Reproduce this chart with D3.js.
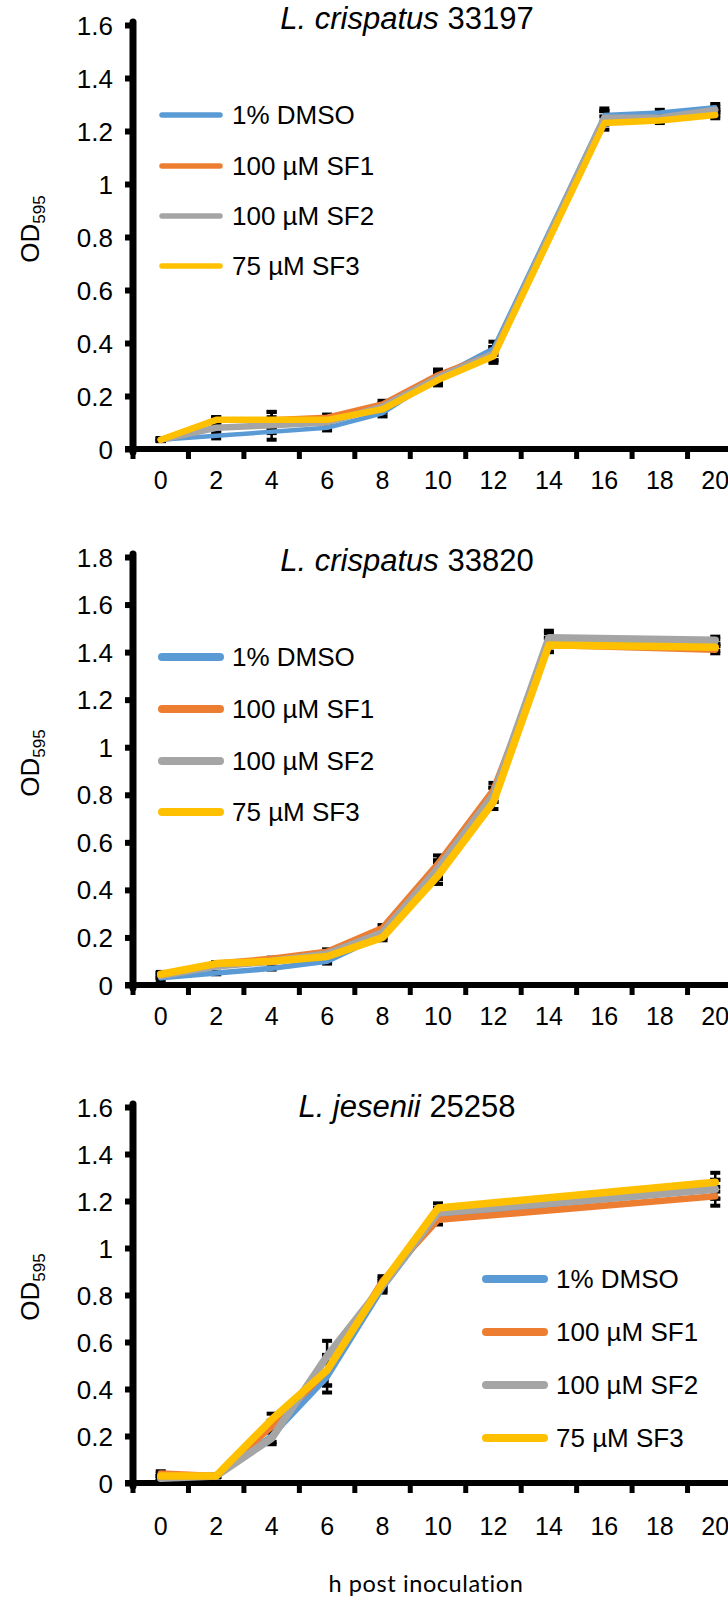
<!DOCTYPE html>
<html><head><meta charset="utf-8">
<script src="https://cdn.jsdelivr.net/npm/d3@7"></script>
<style>
html,body{margin:0;padding:0;background:#fff;}
svg{display:block;}
.tk{font-family:"Liberation Sans",Arial,sans-serif;font-size:26px;fill:#000;}
</style></head>
<body>
<svg id="c" width="728" height="1600"></svg>
<script>
// ---------- DATA ----------
const hours = ["0","2","4","6","8","10","12","14","16","18","20"];
const seriesNames = ["1% DMSO","100 µM SF1","100 µM SF2","75 µM SF3"];

const titles = ["33197","33820","25258"];
const species = ["L. crispatus","L. crispatus","L. jesenii"];

// L. crispatus 33197
const c197_DMSO = [0.035,0.05,0.065,0.08,0.135,0.27,0.38,null,1.26,1.27,1.29];
const c197_SF1  = [0.035,0.11,0.11,0.12,0.17,0.28,0.36,null,1.25,1.25,1.27];
const c197_SF2  = [0.035,0.08,0.09,0.10,0.16,0.27,0.36,null,1.25,1.25,1.28];
const c197_SF3  = [0.035,0.11,0.11,0.11,0.15,0.26,0.35,null,1.23,1.24,1.26];
const c197_SD   = [0.005,0.01,0.03,0.01,0.012,0.02,0.025,null,0.025,0.01,0.012];

// L. crispatus 33820
const c820_DMSO = [0.03,0.05,0.07,0.10,0.21,0.48,0.80,1.45,null,null,1.44];
const c820_SF1  = [0.04,0.09,0.11,0.14,0.24,0.51,0.82,1.43,null,null,1.41];
const c820_SF2  = [0.04,0.08,0.10,0.13,0.22,0.49,0.80,1.46,null,null,1.45];
const c820_SF3  = [0.045,0.09,0.10,0.12,0.20,0.46,0.77,1.43,null,null,1.42];
const c820_SD   = [0.01,0.005,0.005,0.01,0.012,0.035,0.03,0.03,null,null,0.015];

// L. jesenii 25258
const j258_DMSO = [0.02,0.03,0.20,0.45,0.83,1.14,null,null,null,null,1.25];
const j258_SF1  = [0.04,0.03,0.24,0.48,0.86,1.12,null,null,null,null,1.22];
const j258_SF2  = [0.02,0.03,0.19,0.54,0.84,1.15,null,null,null,null,1.25];
const j258_SF3  = [0.03,0.03,0.27,0.48,0.85,1.17,null,null,null,null,1.28];
const j258_SD   = [0.01,0.005,0.025,0.065,0.02,0.02,null,null,null,null,0.04];

const yTicks1 = [0,0.2,0.4,0.6,0.8,1,1.2,1.4,1.6];
const yTicks2 = [0,0.2,0.4,0.6,0.8,1,1.2,1.4,1.6,1.8];
const xTitle = "h post inoculation";

// ---------- STYLE / LAYOUT ----------
const colors = ["#5B9BD5","#ED7D31","#A5A5A5","#FFC000"];
const panels = [
  {series:[c197_DMSO,c197_SF1,c197_SF2,c197_SF3], sd:c197_SD, yticks:yTicks1,
   top:25, bottom:449, xpad:22, titleY:29, lw:[4.5,5.5,6.5,6.5], leg:{x:162, y:[115,166,216,266], lw:5.5}},
  {series:[c820_DMSO,c820_SF1,c820_SF2,c820_SF3], sd:c820_SD, yticks:yTicks2,
   top:557, bottom:985, xpad:22, titleY:571, lw:[5.5,6.5,7.5,7.5], leg:{x:162, y:[657,709,761,812], lw:8}},
  {series:[j258_DMSO,j258_SF1,j258_SF2,j258_SF3], sd:j258_SD, yticks:yTicks1,
   top:1107, bottom:1483, xpad:34, titleY:1117, lw:[5.5,6.5,7.5,7.5], leg:{x:486, y:[1279,1332,1385,1438], lw:8}}
];
const axisX = 133, rightX = 743;

const svg = d3.select("#c");

panels.forEach((p,pi)=>{
  const g = svg.append("g");
  const x = d3.scaleBand().domain(hours).range([axisX, rightX]).padding(0);
  const ymax = p.yticks[p.yticks.length-1];
  const y = d3.scaleLinear().domain([0,ymax]).range([p.bottom,p.top]);
  const cx = h => x(h) + x.bandwidth()/2;

  // y axis
  const ya = d3.axisLeft(y).tickValues(p.yticks).tickSize(8)
      .tickFormat(d=>d===0?"0":d3.format("")(+d.toFixed(1)));
  const yg = g.append("g").attr("transform",`translate(${axisX},0)`).call(ya);
  yg.select(".domain").remove();
  yg.selectAll(".tick line").attr("stroke","#000").attr("stroke-width",6).attr("x2",-8);
  yg.selectAll(".tick text").attr("class","tk").attr("dy","0.35em").attr("x",-20);

  g.append("line").attr("x1",axisX).attr("x2",axisX).attr("y1",p.top-3).attr("y2",p.bottom+3)
    .attr("stroke","#000").attr("stroke-width",7).attr("stroke-linecap","round");

  // x axis
  const xa = d3.axisBottom(x).tickSize(0).tickPadding(p.xpad);
  const xg = g.append("g").attr("transform",`translate(0,${p.bottom})`).call(xa);
  xg.select(".domain").remove();
  xg.selectAll(".tick text").attr("class","tk").style("font-size","25px").attr("dy","0.71em");
  g.append("line").attr("x1",axisX-8).attr("x2",728).attr("y1",p.bottom).attr("y2",p.bottom)
    .attr("stroke","#000").attr("stroke-width",6);
  const bounds = hours.map(h=>x(h)).concat([x(hours[hours.length-1])+x.step()]);
  g.selectAll(".xt").data(bounds).enter().append("line")
    .attr("x1",d=>d).attr("x2",d=>d).attr("y1",p.bottom).attr("y2",p.bottom+10)
    .attr("stroke","#000").attr("stroke-width",5);

  // error bars
  const eb = g.append("g");
  p.series.forEach((s,si)=>{
    hours.forEach((h,i)=>{
      if(s[i]==null || p.sd[i]==null) return;
      const v=s[i], e=p.sd[i], xc=cx(h);
      eb.append("line").attr("x1",xc).attr("x2",xc).attr("y1",y(v-e)).attr("y2",y(v+e))
        .attr("stroke","#000").attr("stroke-width",2.5);
      [v-e,v+e].forEach(b=>eb.append("line").attr("x1",xc-5).attr("x2",xc+5)
        .attr("y1",y(b)).attr("y2",y(b)).attr("stroke","#000").attr("stroke-width",4));
    });
  });

  // lines
  const line = d3.line().x(d=>cx(d.h)).y(d=>y(d.v));
  p.series.forEach((s,si)=>{
    const pts = hours.map((h,i)=>({h,v:s[i]})).filter(d=>d.v!=null);
    g.append("path").datum(pts).attr("d",line).attr("fill","none")
      .attr("stroke",colors[si]).attr("stroke-width",p.lw[si])
      .attr("stroke-linejoin","round").attr("stroke-linecap","round");
  });

  // title
  const midY = (p.top+p.bottom)/2;
  const t = g.append("text").attr("class","tk").attr("x",407).attr("y",p.titleY)
    .attr("text-anchor","middle").style("font-size","31px");
  t.append("tspan").attr("font-style","italic").text(species[pi]);
  t.append("tspan").text(" "+titles[pi]);

  // y title
  const yt = g.append("text").attr("transform",`translate(39,${midY-8}) rotate(-90)`)
    .attr("text-anchor","middle").style("font-family","'Liberation Sans',Arial,sans-serif")
    .style("font-size","26px");
  yt.append("tspan").text("OD");
  yt.append("tspan").attr("dy",6).style("font-size","17px").text("595");

  // legend
  seriesNames.forEach((n,si)=>{
    const ly = p.leg.y[si];
    g.append("line").attr("x1",p.leg.x).attr("x2",p.leg.x+58).attr("y1",ly).attr("y2",ly)
      .attr("stroke",colors[si]).attr("stroke-width",p.leg.lw).attr("stroke-linecap","round");
    g.append("text").attr("class","tk").attr("x",p.leg.x+70).attr("y",ly).attr("dy","0.36em")
      .style("font-size","26px").text(n);
  });
});

svg.append("text").attr("x",426).attr("y",1592).attr("text-anchor","middle")
  .style("font-family","Lato,'Open Sans',sans-serif").style("font-size","23.5px").style("letter-spacing","0.6px")
  .text(xTitle);
</script>
</body></html>
